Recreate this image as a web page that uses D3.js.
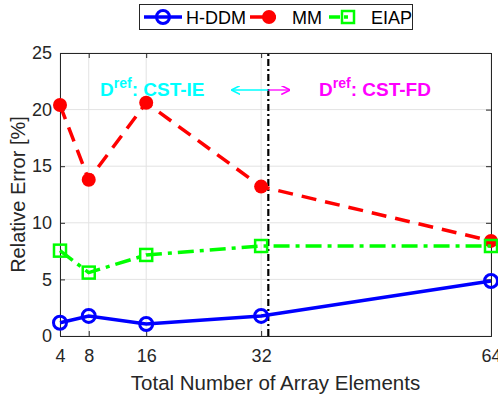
<!DOCTYPE html>
<html>
<head>
<meta charset="utf-8">
<script src="https://cdn.jsdelivr.net/npm/d3@7"></script>
<style>
  body { margin: 0; background: #fff; }
  text { font-family: "Liberation Sans", Arial, sans-serif; }
</style>
</head>
<body>
<div id="chart"></div>
<script>
// data
const elements = [4, 8, 16, 32, 64];
const hddm = [1.17, 1.77, 1.06, 1.77, 4.86];
const mm = [20.4, 13.8, 20.6, 13.2, 8.4];
const eiap = [7.54, 5.6, 7.16, 7.95, 7.95];
const yTicks = [0, 5, 10, 15, 20, 25];
const splitAt = 33;

const width = 498, height = 398;
const margin = { top: 53, right: 7, bottom: 62, left: 60 };

const svg = d3.select("#chart").append("svg")
  .attr("width", width)
  .attr("height", height);

const x = d3.scaleLinear().domain([4, 64]).range([margin.left, width - margin.right]);
const y = d3.scaleLinear().domain([0, 25]).range([height - margin.bottom, margin.top]);

// grid
svg.append("g").selectAll("line.gx")
  .data(elements)
  .enter().append("line")
  .attr("x1", d => x(d)).attr("x2", d => x(d))
  .attr("y1", y(0)).attr("y2", y(25))
  .attr("stroke", "#e3e3e3").attr("stroke-width", 1);
svg.append("g").selectAll("line.gy")
  .data(yTicks)
  .enter().append("line")
  .attr("x1", x(4)).attr("x2", x(64))
  .attr("y1", d => y(d)).attr("y2", d => y(d))
  .attr("stroke", "#e3e3e3").attr("stroke-width", 1);

// axes
const xAxis = svg.append("g")
  .attr("transform", `translate(0,${y(0)})`)
  .call(d3.axisBottom(x).tickValues(elements).tickSize(-5).tickPadding(13));
const yAxis = svg.append("g")
  .attr("transform", `translate(${x(4)},0)`)
  .call(d3.axisLeft(y).tickValues(yTicks).tickSize(-5).tickPadding(8));
const xTop = svg.append("g")
  .attr("transform", `translate(0,${y(25)})`)
  .call(d3.axisTop(x).tickValues(elements).tickSize(-5).tickFormat(""));
const yRight = svg.append("g")
  .attr("transform", `translate(${x(64)},0)`)
  .call(d3.axisRight(y).tickValues(yTicks).tickSize(-5).tickFormat(""));

[xAxis, yAxis, xTop, yRight].forEach(g => {
  g.select(".domain").attr("stroke", "#262626").attr("stroke-width", 1);
  g.selectAll(".tick line").attr("stroke", "#262626");
  g.selectAll(".tick text").attr("fill", "#262626").style("font-size", "18px")
    .style("font-family", "'Liberation Sans', Arial, sans-serif");
});

// axis labels
svg.append("text")
  .attr("x", (x(4) + x(64)) / 2).attr("y", 390)
  .attr("text-anchor", "middle")
  .attr("fill", "#262626")
  .style("font-size", "20.5px")
  .text("Total Number of Array Elements");
svg.append("text")
  .attr("transform", `translate(25,${(y(0) + y(25)) / 2}) rotate(-90)`)
  .attr("text-anchor", "middle")
  .attr("fill", "#262626")
  .style("font-size", "20px")
  .text("Relative Error [%]");

// vertical split line
svg.append("line")
  .attr("x1", x(splitAt)).attr("x2", x(splitAt))
  .attr("y1", y(0)).attr("y2", y(25))
  .attr("stroke", "#000").attr("stroke-width", 2.2)
  .attr("stroke-dasharray", "7,3,2,3");

// series
const series = [
  { name: "H-DDM", values: hddm, color: "#0000ff", dash: null, marker: "circle" },
  { name: "MM", values: mm, color: "#ff0000", dash: "15,9", marker: "dot" },
  { name: "EIAP", values: eiap, color: "#00ff00", dash: "16,6,4,6", marker: "square" }
];

const line = d3.line()
  .x(d => x(d[0]))
  .y(d => y(d[1]));

function drawMarker(g, cx, cy, s) {
  if (s.marker === "circle") {
    g.append("circle").attr("cx", cx).attr("cy", cy).attr("r", 6.5)
      .attr("fill", "none").attr("stroke", s.color).attr("stroke-width", 3);
  } else if (s.marker === "dot") {
    g.append("circle").attr("cx", cx).attr("cy", cy).attr("r", 7)
      .attr("fill", s.color);
  } else {
    g.append("rect").attr("x", cx - 6).attr("y", cy - 6).attr("width", 12).attr("height", 12)
      .attr("fill", "none").attr("stroke", s.color).attr("stroke-width", 2.5);
  }
}

series.forEach(s => {
  const pts = elements.map((e, i) => [e, s.values[i]]);
  svg.append("path")
    .datum(pts)
    .attr("d", line)
    .attr("fill", "none")
    .attr("stroke", s.color)
    .attr("stroke-width", 3.5)
    .attr("stroke-dasharray", s.dash);
  const g = svg.append("g");
  pts.forEach(p => drawMarker(g, x(p[0]), y(p[1]), s));
});

// annotations
const defs = svg.append("defs");
[["arrC", "#00ffff"], ["arrM", "#ff00ff"]].forEach(([id, c]) => {
  defs.append("marker").attr("id", id)
    .attr("viewBox", "0 0 10 10").attr("refX", 9).attr("refY", 5)
    .attr("markerWidth", 9).attr("markerHeight", 9).attr("orient", "auto")
    .attr("markerUnits", "userSpaceOnUse")
    .append("path").attr("d", "M0,0 L10,5 L0,10").attr("fill", "none")
    .attr("stroke", c).attr("stroke-width", 1.8);
});
svg.append("line")
  .attr("x1", x(splitAt)).attr("x2", x(splitAt) - 36)
  .attr("y1", 90).attr("y2", 90)
  .attr("stroke", "#00ffff").attr("stroke-width", 1.3).attr("marker-end", "url(#arrC)");
svg.append("line")
  .attr("x1", x(splitAt)).attr("x2", x(splitAt) + 21)
  .attr("y1", 90).attr("y2", 90)
  .attr("stroke", "#ff00ff").attr("stroke-width", 1.3).attr("marker-end", "url(#arrM)");

function dref(tx, ty, label, color) {
  const t = svg.append("text").attr("x", tx).attr("y", ty)
    .attr("fill", color).style("font-size", "19px").style("font-weight", "bold");
  t.append("tspan").text("D");
  t.append("tspan").attr("dy", -8).style("font-size", "14px").text("ref");
  t.append("tspan").attr("dy", 8).text(": " + label);
}
dref(100, 96, "CST-IE", "#00ffff");
dref(319, 96, "CST-FD", "#ff00ff");

// legend
const lg = svg.append("g");
lg.append("rect").attr("x", 139.5).attr("y", 4.5).attr("width", 273).attr("height", 25)
  .attr("fill", "#fff").attr("stroke", "#262626").attr("stroke-width", 1);
const legendPos = [{ x0: 144, tx: 186 }, { x0: 250, tx: 292 }, { x0: 329, tx: 371 }];
series.forEach((s, i) => {
  const lp = legendPos[i];
  lg.append("line")
    .attr("x1", lp.x0).attr("x2", lp.x0 + 38)
    .attr("y1", 17).attr("y2", 17)
    .attr("stroke", s.color).attr("stroke-width", 3.5)
    .attr("stroke-dasharray", s.marker === "circle" ? null : (s.marker === "dot" ? "14,6,6,20" : "11,4,4,20"));
  drawMarker(lg, lp.x0 + 19, 17, s);
  lg.append("text").attr("x", lp.tx).attr("y", 23.5)
    .attr("fill", "#000").style("font-size", "18px").text(s.name);
});
</script>
</body>
</html>
